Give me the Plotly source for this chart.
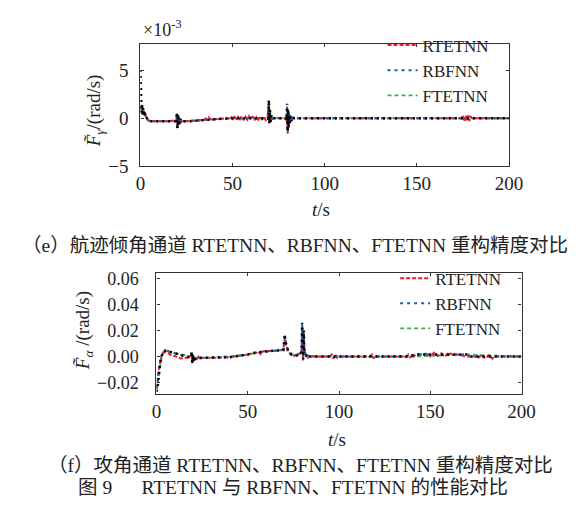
import plotly.graph_objects as go

W, H = 583, 519

# ---------------- (e) flight-path angle channel (values x 1e-3 rad/s) ----------------
t_e_ref = [0, 0.3, 0.6, 0.9, 1.2, 1.5, 1.8, 2.1, 2.5, 3, 3.5, 4, 5, 8, 12, 16, 19, 19.5, 19.8,
           20.1, 20.4, 20.7, 21, 21.4, 21.8, 22.5, 24, 27, 30, 35, 40, 45, 50, 55, 60, 65, 68,
           69, 69.4, 69.7, 70, 70.3, 70.6, 71, 71.5, 72.5, 75, 78, 79, 79.3, 79.6, 79.9, 80.2,
           80.5, 80.8, 81.1, 81.5, 82, 82.5, 83.5, 86, 90, 100, 120, 140, 160, 180, 200]
f_e_ref = [5.0, 1.2, 0.6, 1.5, 0.4, 1.1, 0.3, 0.8, 0.2, 0.3, -0.1, -0.2, -0.3, -0.3, -0.3, -0.3,
           -0.3, -0.2, 0.6, -1.1, 0.4, -0.8, 0.1, -0.6, -0.1, -0.4, -0.3, -0.3, -0.25, -0.2, -0.1,
           -0.05, 0.0, 0.0, 0.0, 0.0, 0.0, 0.0, -0.1, 1.9, -0.6, 0.9, -0.4, 0.3, -0.1, 0.0, 0.0,
           0.0, 0.0, -0.2, 1.5, -1.4, 0.9, -0.9, 0.5, -0.5, 0.2, -0.3, 0.1, 0.0, 0.0, 0.0, 0.0,
           0.0, 0.0, 0.0, 0.0, 0.0]
f_e_rbf = [1.0, 1.3, 0.6, 1.2, 0.5, 0.9, 0.3, 0.6, 0.2, 0.2, -0.1, -0.2, -0.3, -0.3, -0.3, -0.3,
           -0.3, -0.2, 0.5, -0.9, 0.3, -0.6, 0.0, -0.5, -0.1, -0.4, -0.3, -0.3, -0.25, -0.2, -0.1,
           -0.05, 0.0, 0.0, 0.0, 0.0, 0.0, 0.0, -0.1, 1.8, -0.5, 0.7, -0.3, 0.2, -0.1, 0.0, 0.0,
           0.0, 0.0, -0.2, 1.3, -1.2, 0.8, -0.7, 0.4, -0.4, 0.2, -0.2, 0.1, 0.0, 0.0, 0.0, 0.0,
           0.0, 0.0, 0.0, 0.0, 0.0]
t_e_rte = [0, 0.5, 1, 1.5, 2, 2.5, 3, 4, 5, 10, 15, 19.5, 19.8, 20.1, 20.4, 20.8, 21.3, 22, 23,
           25, 30, 34, 35, 35.5, 36, 37, 38, 40, 45, 48, 49, 50, 51, 52, 53, 54, 55, 56, 57, 58,
           59, 60, 61, 62, 63, 64, 65, 66, 67, 68, 69, 69.7, 70, 70.4, 71, 72, 75, 78, 79.3,
           79.6, 79.9, 80.2, 80.5, 80.9, 81.3, 82, 83, 86, 90, 100, 120, 140, 160, 174, 175,
           175.5, 176, 176.5, 177, 177.5, 178, 178.5, 179, 180, 190, 200]
f_e_rte = [1.0, 1.2, 0.5, 1.0, 0.4, 0.7, 0.2, -0.2, -0.3, -0.3, -0.3, -0.2, 0.4, -1.0, 0.2, -0.5,
           -0.2, -0.4, -0.3, -0.3, -0.25, -0.2, -0.15, 0.15, -0.2, 0.1, -0.1, -0.1, -0.05, 0.0,
           0.2, -0.15, 0.2, -0.2, 0.15, -0.1, 0.2, -0.2, 0.15, -0.15, 0.2, -0.1, 0.2, -0.2, 0.1,
           -0.15, 0.2, -0.1, 0.15, -0.2, 0.0, 1.6, -0.5, 0.5, -0.2, 0.0, 0.0, 0.0, -0.2, 1.2,
           -1.6, 0.6, -1.0, 0.3, -0.4, -0.1, 0.0, 0.0, 0.0, 0.0, 0.0, 0.0, 0.0, 0.0, 0.3, -0.3,
           0.25, -0.3, 0.3, -0.2, 0.3, -0.3, 0.2, 0.0, 0.0, 0.0]
t_e_fte = [0, 1, 2, 3, 5, 19.5, 20, 20.5, 21, 22, 30, 40, 50, 69.5, 70, 70.5, 71, 79.5, 80,
           80.5, 81, 82, 100, 200]
f_e_fte = [1.0, 0.8, 0.5, 0.1, -0.3, -0.3, 0.3, -0.6, 0.0, -0.3, -0.25, -0.1, 0.0, 0.0, 1.2,
           -0.3, 0.1, 0.0, 1.0, -0.8, 0.2, 0.0, 0.0, 0.0]

# ---------------- (f) angle-of-attack channel (rad/s) ----------------
t_f_ref = [0, 0.3, 0.6, 0.9, 1.2, 1.5, 2, 2.6, 3.5, 4.4, 6, 7.9, 10, 13.2, 16, 18.5, 19, 19.3,
           19.6, 19.9, 20.2, 20.6, 21, 22, 25, 30, 35, 40, 45, 50, 54, 60, 65, 68, 69.5, 70,
           70.3, 70.7, 71.2, 72, 73, 74, 75, 76, 77, 78, 79, 79.5, 79.8, 80.1, 80.4, 80.7, 81,
           81.5, 82, 83, 84, 85.5, 90, 100, 120, 138, 142, 150, 165, 170, 172, 200]
f_f_ref = [-0.027, -0.026, -0.024, -0.02, -0.015, -0.011, -0.006, -0.001, 0.003, 0.0045, 0.0045,
           0.0035, 0.0025, 0.001, 0.0, -0.0005, 0.0, 0.004, -0.006, 0.002, -0.004, 0.0, -0.002,
           -0.001, -0.001, -0.001, -0.0008, -0.0005, 0.0005, 0.0015, 0.003, 0.004, 0.0045, 0.005,
           0.005, 0.012, 0.017, 0.011, 0.008, 0.005, 0.003, 0.0015, 0.001, 0.0005, 0.001, 0.0015,
           0.002, 0.004, 0.026, 0.012, -0.002, 0.02, 0.006, 0.003, 0.001, -0.001, 0.0, 0.0, 0.0,
           0.0, 0.0, 0.0, 0.0015, 0.0015, 0.0015, 0.0015, 0.0, 0.0]
f_f_rbf = [-0.025, -0.024, -0.022, -0.018, -0.014, -0.010, -0.005, -0.001, 0.003, 0.0045, 0.0045,
           0.0035, 0.0025, 0.001, 0.0, -0.0005, 0.0, 0.003, -0.005, 0.001, -0.003, 0.0, -0.002,
           -0.001, -0.001, -0.001, -0.0008, -0.0005, 0.0005, 0.0015, 0.003, 0.004, 0.0045, 0.005,
           0.005, 0.011, 0.016, 0.011, 0.008, 0.005, 0.003, 0.0015, 0.001, 0.0005, 0.001, 0.0015,
           0.002, 0.004, 0.025, 0.012, -0.001, 0.018, 0.006, 0.003, 0.001, -0.001, 0.0, 0.0, 0.0,
           0.0, 0.0, 0.0, 0.0015, 0.0015, 0.0015, 0.0015, 0.0, 0.0]
t_f_rte = [0, 0.5, 1, 1.5, 2, 3, 4.5, 6, 8, 10, 12, 14, 18.5, 19.3, 19.6, 20, 20.4, 21, 22, 23,
           24, 25, 30, 40, 45, 50, 55, 56, 57, 58, 60, 65, 69.5, 70.3, 71, 72, 74, 75, 76, 78,
           79.5, 79.8, 80.2, 80.6, 81, 82, 84, 86, 90, 95, 96, 97, 98, 99, 100, 110, 117, 118,
           119, 120, 121, 130, 137, 138, 139, 140, 141, 142, 147, 148, 150, 152, 154, 156, 158,
           160, 162, 165, 170, 175, 176, 178, 180, 182, 184, 185, 190, 200]
f_f_rte = [-0.024, -0.02, -0.013, -0.008, -0.004, 0.002, 0.004, 0.003, 0.001, 0.0005, -0.001,
           -0.0015, -0.0005, 0.002, -0.005, 0.001, -0.003, -0.001, -0.002, 0.0, -0.0015, -0.001,
           -0.001, -0.0005, 0.0005, 0.0015, 0.003, 0.004, 0.002, 0.004, 0.004, 0.0045, 0.005, 0.014,
           0.009, 0.004, 0.001, 0.0, 0.001, 0.0015, 0.003, 0.022, -0.003, 0.017, 0.005, 0.0, 0.0,
           0.0, 0.0, 0.0, 0.0015, -0.0015, 0.0015, -0.001, 0.0, 0.0, 0.0, 0.0015, -0.0015, 0.001,
           0.0, 0.0, 0.0, 0.0015, -0.001, 0.0015, 0.0, 0.0015, 0.0015, 0.003, 0.0, 0.003, 0.0005,
           0.0025, 0.0, 0.003, 0.0015, 0.0015, 0.0, 0.0, -0.0015, 0.0015, -0.0015, 0.001, -0.0015,
           0.0, 0.0, 0.0]
t_f_fte = [0, 1, 2, 3, 5, 10, 19.5, 20, 21, 30, 50, 60, 69.5, 70.3, 72, 75, 79.5, 80, 80.5, 82,
           90, 140, 170, 200]
f_f_fte = [-0.025, -0.015, -0.005, 0.001, 0.004, 0.0025, 0.0, -0.004, -0.001, -0.001, 0.0015,
           0.004, 0.005, 0.015, 0.005, 0.001, 0.003, 0.023, 0.0, 0.001, 0.0, 0.0, 0.0015, 0.0]

x_ticks = [0, 50, 100, 150, 200]

names = ["RTETNN", "RBFNN", "FTETNN"]
RED, BLUE, GREEN = "#ee1c25", "#2a5caa", "#39b54a"

SERIF = "Liberation Serif"
CAP = "Liberation Serif, Noto Sans CJK SC"

fig = go.Figure()


def add_panel(xa, ya, leg, t_ref, f_ref, f_rbf, t_rte, f_rte, t_fte, f_fte):
    fig.add_trace(go.Scatter(x=t_fte, y=f_fte, mode="lines", name=names[2],
                             line=dict(color=GREEN, width=1.8, dash="4px,3px"),
                             xaxis=xa, yaxis=ya, legend=leg, legendrank=3))
    fig.add_trace(go.Scatter(x=t_rte, y=f_rte, mode="lines", name=names[0],
                             line=dict(color=RED, width=2, dash="4px,2px"),
                             xaxis=xa, yaxis=ya, legend=leg, legendrank=1))
    fig.add_trace(go.Scatter(x=t_ref, y=f_rbf, mode="lines", name=names[1],
                             line=dict(color=BLUE, width=2, dash="3px,4px"),
                             xaxis=xa, yaxis=ya, legend=leg, legendrank=2))
    fig.add_trace(go.Scatter(x=t_ref, y=f_ref, mode="lines", showlegend=False,
                             line=dict(color="black", width=2.5, dash="2px,4px"),
                             xaxis=xa, yaxis=ya))


add_panel("x", "y", "legend", t_e_ref, f_e_ref, f_e_rbf, t_e_rte, f_e_rte, t_e_fte, f_e_fte)
add_panel("x2", "y2", "legend2", t_f_ref, f_f_ref, f_f_rbf, t_f_rte, f_f_rte, t_f_fte, f_f_fte)


def px(x):
    return x / W


def py(y):
    return 1 - y / H


def axis_style(size):
    return dict(showline=True, mirror="ticks", linecolor="#333", linewidth=1.2,
                ticks="inside", ticklen=3, tickcolor="#333", showgrid=False, zeroline=False,
                tickfont=dict(family=SERIF, size=size, color="#222"))


fig.update_layout(
    width=W, height=H, margin=dict(l=0, r=0, t=0, b=0),
    paper_bgcolor="white", plot_bgcolor="white",
    font=dict(family=SERIF, color="#222"),
    xaxis=dict(domain=[px(131.7), px(512.7)], range=[0, 200], tickvals=x_ticks, anchor="y",
               **axis_style(19)),
    yaxis=dict(domain=[py(159), py(33)], range=[-5, 7.7], tickvals=[-5, 0, 5], anchor="x",
               ticklabelstandoff=7, **axis_style(19)),
    xaxis2=dict(domain=[px(148.3), px(525.7)], range=[0, 200], tickvals=x_ticks, anchor="y2",
                **axis_style(19)),
    yaxis2=dict(domain=[py(393.3), py(268.3)], range=[-0.0287, 0.0645],
                tickvals=[-0.02, 0, 0.02, 0.04, 0.06], tickformat=".2f", anchor="x2",
                ticklabelstandoff=13, **axis_style(18)),
    legend=dict(x=px(382), y=py(16), xanchor="left", yanchor="top",
                bgcolor="rgba(0,0,0,0)", font=dict(family=SERIF, size=17, color="#222"),
                tracegroupgap=0, itemwidth=30),
    legend2=dict(x=px(395), y=py(256), xanchor="left", yanchor="top",
                 bgcolor="rgba(0,0,0,0)", font=dict(family=SERIF, size=17, color="#222"),
                 tracegroupgap=0, itemwidth=30),
    showlegend=True,
)

ann = [
    dict(text="×10<sup>-3</sup>", x=px(132), y=py(17), xanchor="left", yanchor="middle",
         font=dict(family=SERIF, size=18, color="#222")),
    dict(text="<i>F\u0303</i><sub><i>γ</i></sub>/(rad/s)", x=px(85), y=py(102), textangle=-90,
         xanchor="center", yanchor="middle", font=dict(family=SERIF, size=19, color="#222")),
    dict(text="<i>t</i>/s", x=px(318), y=py(203), xanchor="center", yanchor="middle",
         font=dict(family=SERIF, size=19, color="#222")),
    dict(text="（e）航迹倾角通道 RTETNN、RBFNN、FTETNN 重构精度对比", x=px(292), y=py(240),
         xanchor="center", yanchor="middle", font=dict(family=CAP, size=19.5, color="#222")),
    dict(text="<i>F\u0303</i><sub><i>α</i></sub> /(rad/s)", x=px(73), y=py(328), textangle=-90,
         xanchor="center", yanchor="middle", font=dict(family=SERIF, size=19, color="#222")),
    dict(text="<i>t</i>/s", x=px(335), y=py(440), xanchor="center", yanchor="middle",
         font=dict(family=SERIF, size=19, color="#222")),
    dict(text="（f）攻角通道 RTETNN、RBFNN、FTETNN 重构精度对比", x=px(297), y=py(467),
         xanchor="center", yanchor="middle", font=dict(family=CAP, size=19.5, color="#222")),
    dict(text="图 9\u3000\u2002RTETNN 与 RBFNN、FTETNN 的性能对比", x=px(289), y=py(490),
         xanchor="center", yanchor="middle", font=dict(family=CAP, size=19.5, color="#222")),
]
for a in ann:
    a.update(xref="paper", yref="paper", showarrow=False)
fig.update_layout(annotations=ann)

fig.write_html("out.html")
